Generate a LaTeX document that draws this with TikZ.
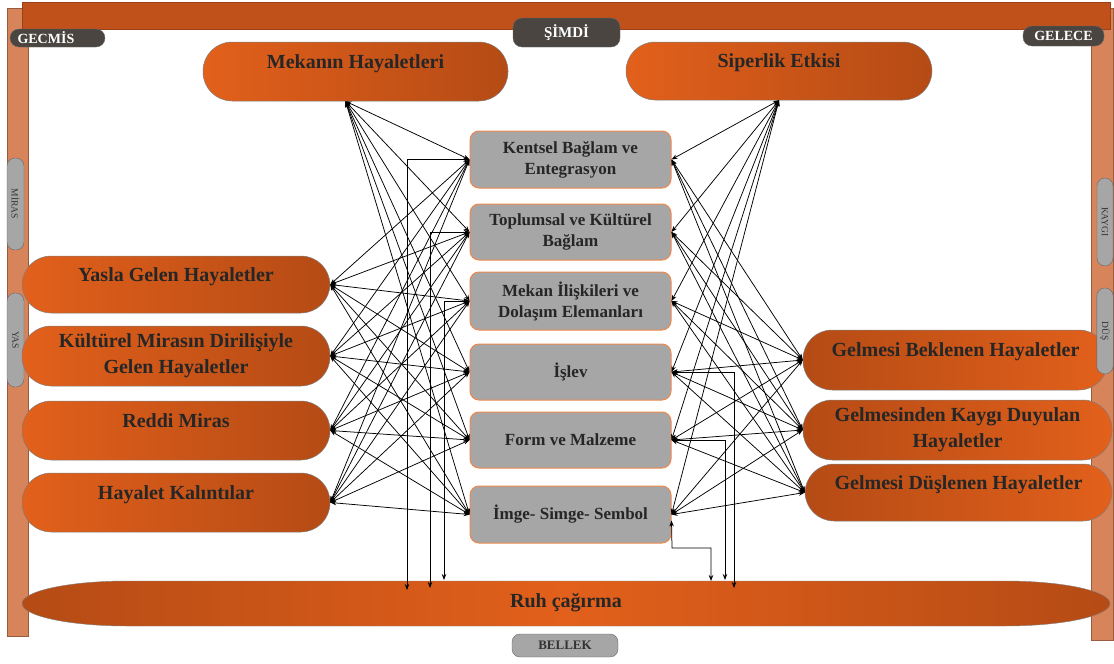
\documentclass[tikz,border=0pt]{standalone}
\usepackage{fontspec}
\setmainfont{Liberation Serif}
\usetikzlibrary{arrows.meta}

\definecolor{bright}{HTML}{E2601B}
\definecolor{dark}{HTML}{B54B15}
\definecolor{topbar}{HTML}{C0511A}
\definecolor{sidebar}{HTML}{D8845B}
\definecolor{boxgray}{HTML}{A6A6A6}
\definecolor{boxline}{HTML}{F0884A}
\definecolor{pilldark}{HTML}{4A4541}

\begin{document}
\begin{tikzpicture}[x=1pt,y=-1pt,
  ghost/.style={rounded corners=29pt, draw=black!50, line width=0.5pt,
    minimum width=308pt, minimum height=59pt, align=center, text=black!85,
    font=\fontsize{20}{26}\selectfont\bfseries},
  toright/.style={left color=bright, right color=dark},
  toleft/.style={left color=dark, right color=bright},
  hi/.style={text depth=20pt},
  topic/.style={rounded corners=9pt, fill=boxgray, draw=boxline, line width=1pt,
    minimum width=201pt, minimum height=56pt, align=center, text=black!85,
    font=\fontsize{17}{21}\selectfont\bfseries},
  tag/.style={rounded corners=9pt, fill=pilldark, draw=black!60, text=white,
    font=\fontsize{14}{14}\selectfont\bfseries},
  sidetag/.style={rounded corners=8pt, fill=boxgray, draw=black!60, text=black!80,
    font=\fontsize{9.5}{9.5}\selectfont},
  link/.style={{Stealth[length=6pt,width=4.5pt]}-{Stealth[length=6pt,width=4.5pt]}, line width=0.75pt}]

\useasboundingbox (0,0) rectangle (1114,664);

% frame
\filldraw[fill=sidebar, draw=sidebar!70!black] (7,8) rectangle (28,636);
\filldraw[fill=sidebar, draw=sidebar!70!black] (1091,8) rectangle (1113,640);
\filldraw[fill=topbar, draw=topbar!80!black] (22,2) rectangle (1110,29);

\node[tag, minimum width=95pt, minimum height=18pt, text width=80pt, inner sep=0pt] (past) at (57.5,38) {GECMİS};
\node[tag, minimum width=107pt, minimum height=29pt, font=\fontsize{15}{15}\selectfont\bfseries] (now) at (566.5,32.5) {ŞİMDİ};
\node[tag, minimum width=81pt, minimum height=20pt] (future) at (1063.5,36) {GELECE};
\node[sidetag, rotate=-90, minimum width=92pt, minimum height=17pt] (heritage) at (15.5,204) {MİRAS};
\node[sidetag, rotate=-90, minimum width=94pt, minimum height=17pt] (grief) at (15.5,340) {YAS};
\node[sidetag, minimum width=106pt, minimum height=23pt, font=\fontsize{13}{13}\selectfont\bfseries] (memory) at (565,645.5) {BELLEK};

% ghosts
\node[ghost, toright, hi, minimum width=305pt] (mekan) at (355.5,71.5) {Mekanın Hayaletleri};
\node[ghost, toright, hi, minimum width=306pt, minimum height=58pt] (siper) at (779,71) {Siperlik Etkisi};
\node[ghost, toright, hi, minimum height=57pt] (yasla) at (176,284.5) {Yasla Gelen Hayaletler};
\node[ghost, toright, minimum height=60pt] (miras) at (176,356) {Kültürel Mirasın Dirilişiyle\\Gelen Hayaletler};
\node[ghost, toright, hi] (reddi) at (176,430.5) {Reddi Miras};
\node[ghost, toright, hi] (kalinti) at (176,502.5) {Hayalet Kalıntılar};
\node[ghost, toleft, hi, minimum width=305pt, minimum height=60pt] (bekle) at (955.5,360) {Gelmesi Beklenen Hayaletler};
\node[ghost, toleft, minimum width=309pt, minimum height=60pt] (kaygi) at (957.5,430) {Gelmesinden Kaygı Duyulan\\Hayaletler};
\node[ghost, toleft, hi, minimum width=307pt, minimum height=57pt] (dusle) at (958.5,492.5) {Gelmesi Düşlenen Hayaletler};

\node[sidetag, rotate=-90, minimum width=88pt, minimum height=16pt] (worry) at (1105,222) {KAYGI};
\node[sidetag, rotate=-90, minimum width=86pt, minimum height=16pt] (dream) at (1105,331) {DÜŞ};

% topics
\node[topic, minimum height=57pt] (kent) at (570.5,159.5) {Kentsel Bağlam ve\\Entegrasyon};
\node[topic] (topl) at (570.5,232) {Toplumsal ve Kültürel\\Bağlam};
\node[topic, minimum height=58pt] (iliski) at (570.5,301) {Mekan İlişkileri ve\\Dolaşım Elemanları};
\node[topic] (islev) at (570.5,372) {İşlev};
\node[topic] (form) at (570.5,440) {Form ve Malzeme};
\node[topic, minimum height=57pt] (imge) at (570.5,514.5) {İmge- Simge- Sembol};

% ruh cagirma
\shade[left color=dark, right color=dark, middle color=bright, draw=black!50]
  (127,581) -- (1005,581) arc[start angle=-90, end angle=90, x radius=105, y radius=22.5]
  -- (127,626) arc[start angle=90, end angle=270, x radius=105, y radius=22.5] -- cycle;
\node[font=\fontsize{20}{24}\selectfont\bfseries, text=black!85] (ruh) at (566,603) {Ruh çağırma};

% web of links
\coordinate (mekanP) at ([xshift=-10pt]mekan.south);
\foreach \a in {mekanP,yasla.east,miras.east,reddi.east,kalinti.east}
  \foreach \b in {kent,topl,iliski,islev,form,imge}
    \draw[link] (\a) -- (\b.west);
\foreach \a in {siper.south,bekle.west,kaygi.west,dusle.west}
  \foreach \b in {kent,topl,iliski,islev,form,imge}
    \draw[link] (\a) -- (\b.east);

\coordinate (r1) at (407,590);
\coordinate (r2) at (430,588);
\coordinate (r3) at (444,580);
\coordinate (r4) at (711,581);
\coordinate (r5) at (725,580);
\coordinate (r6) at (734,588);
\coordinate (bend) at (672,548);
\draw[link] (kent.west) -| (r1);
\draw[link] (topl.west) -| (r2);
\draw[link] (iliski.west) -| (r3);
\draw[link] (islev.east) -| (r6);
\draw[link] (form.east) -| (r5);
\draw[link] ([yshift=-6pt]imge.east) -- (bend) -| (r4);
\end{tikzpicture}
\end{document}
